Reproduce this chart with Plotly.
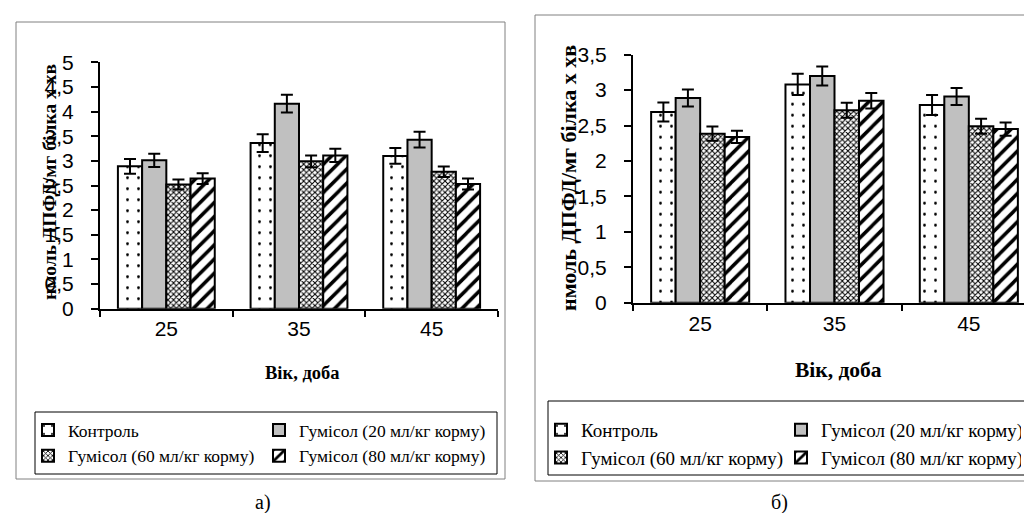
import plotly.graph_objects as go

W, H = 1032, 513

# ---------------- data ----------------
days = ["25", "35", "45"]
series_names = ["Контроль", "Гумісол (20 мл/кг корму)",
                "Гумісол (60 мл/кг корму)", "Гумісол (80 мл/кг корму)"]

# panel а)
a_control = [2.89, 3.36, 3.10]
a_control_err = [0.15, 0.18, 0.16]
a_g20 = [3.01, 4.16, 3.43]
a_g20_err = [0.135, 0.18, 0.16]
a_g60 = [2.52, 2.99, 2.78]
a_g60_err = [0.10, 0.12, 0.105]
a_g80 = [2.64, 3.11, 2.53]
a_g80_err = [0.11, 0.135, 0.11]

# panel б)
b_control = [2.69, 3.08, 2.79]
b_control_err = [0.134, 0.15, 0.14]
b_g20 = [2.89, 3.20, 2.91]
b_g20_err = [0.12, 0.134, 0.12]
b_g60 = [2.385, 2.715, 2.49]
b_g60_err = [0.10, 0.106, 0.106]
b_g80 = [2.34, 2.85, 2.45]
b_g80_err = [0.085, 0.108, 0.094]

y_title = "нмоль ДПФД/мг білка х хв"
x_title = "Вік, доба"
panel_labels = ["а)", "б)"]

# ---------------- styles ----------------
SERIF = "Liberation Serif"
SANS = "Liberation Sans"
styles = [
    dict(color="white", pattern=dict(shape=".", fgcolor="black", bgcolor="white", size=11, solidity=0.05)),
    dict(color="#C0C0C0", pattern=None),
    dict(color="white", pattern=dict(shape="x", fgcolor="black", bgcolor="white", size=4, solidity=0.45)),
    dict(color="white", pattern=dict(shape="/", fgcolor="black", bgcolor="white", size=10, solidity=0.35)),
]
groups = ["g1", "g2", "g1", "g2"]


def px(x):
    return x / W


def py(y):
    return 1 - y / H


fig = go.Figure()

panels = [
    ("a", "x", "y", "legend", [a_control, a_g20, a_g60, a_g80],
     [a_control_err, a_g20_err, a_g60_err, a_g80_err]),
    ("b", "x2", "y2", "legend2", [b_control, b_g20, b_g60, b_g80],
     [b_control_err, b_g20_err, b_g60_err, b_g80_err]),
]

for pid, xa, ya, leg, vals, errs in panels:
    for i, name in enumerate(series_names):
        st = styles[i]
        marker = dict(color=st["color"], line=dict(color="black", width=2))
        if st["pattern"]:
            marker["pattern"] = st["pattern"]
        fig.add_trace(go.Bar(
            x=days, y=vals[i], name=name, xaxis=xa, yaxis=ya,
            marker=marker, legend=leg, legendgroup=pid + groups[i],
            error_y=dict(type="data", array=errs[i], color="black", thickness=2, width=6),
        ))

tick_font = dict(family=SANS, size=21, color="black")
axis_common = dict(showline=True, linecolor="black", linewidth=2, ticks="outside",
                   tickcolor="black", tickwidth=1.5, showgrid=False, zeroline=False)

fig.update_layout(
    width=W, height=H, template="none",
    margin=dict(l=0, r=0, t=0, b=0, autoexpand=False),
    paper_bgcolor="white", plot_bgcolor="white",
    separators=", ",
    barmode="group", bargap=0.27, bargroupgap=0,
    xaxis=dict(domain=[px(92), px(490)], anchor="y", type="category", tickson="boundaries",
               ticklen=6, tickfont=tick_font, ticklabelstandoff=0, **axis_common),
    yaxis=dict(domain=[py(300.7), py(54.3)], anchor="x", range=[0, 5], dtick=0.5, tick0=0,
               ticklen=7, tickfont=tick_font, ticklabelstandoff=13, **axis_common),
    xaxis2=dict(domain=[px(625), px(1028)], anchor="y2", type="category", tickson="boundaries",
                ticklen=6, tickfont=tick_font, ticklabelstandoff=1, **axis_common),
    yaxis2=dict(domain=[py(294.7), py(46.7)], anchor="x2", range=[0, 3.5], dtick=0.5, tick0=0,
                ticklen=7, tickfont=tick_font, ticklabelstandoff=13, **axis_common),
    legend=dict(x=px(20), xanchor="left", y=py(404), yanchor="top", orientation="h",
                traceorder="grouped", entrywidth=186, entrywidthmode="pixels",
                bgcolor="rgba(0,0,0,0)", borderwidth=0,
                font=dict(family=SERIF, size=17.5, color="black")),
    legend2=dict(x=px(533), xanchor="left", y=py(403), yanchor="top", orientation="h",
                 traceorder="grouped", entrywidth=195, entrywidthmode="pixels",
                 bgcolor="rgba(0,0,0,0)", borderwidth=0,
                 font=dict(family=SERIF, size=19, color="black")),
    showlegend=True,
)

# panel frames and legend boxes
frames = [(8, 14, 497, 471, "#808080"), (527, 7, 1031, 473, "#808080"),
          (27, 404, 489, 466, "black"), (540, 393, 1031, 467, "black")]
for x0, y0, x1, y1, c in frames:
    fig.add_shape(type="rect", xref="paper", yref="paper",
                  x0=px(x0), x1=px(x1), y0=py(y1), y1=py(y0),
                  line=dict(color=c, width=1), fillcolor="rgba(0,0,0,0)", layer="below")

ann = [
    (41, 174, "<b>" + y_title + "</b>", -90, dict(family=SERIF, size=19.5, color="black")),
    (560, 170, "<b>" + y_title + "</b>", -90, dict(family=SERIF, size=22, color="black")),
    (294, 365, "<b>" + x_title + "</b>", 0, dict(family=SERIF, size=18.5, color="black")),
    (830, 362, "<b>" + x_title + "</b>", 0, dict(family=SERIF, size=21.5, color="black")),
    (255, 494, panel_labels[0], 0, dict(family=SERIF, size=20, color="black")),
    (771, 494, panel_labels[1], 0, dict(family=SERIF, size=20, color="black")),
]
for x, y, t, ang, f in ann:
    fig.add_annotation(x=px(x), y=py(y), xref="paper", yref="paper", text=t, textangle=ang,
                       showarrow=False, xanchor="center", yanchor="middle", font=f)

fig.write_html("out.html")
